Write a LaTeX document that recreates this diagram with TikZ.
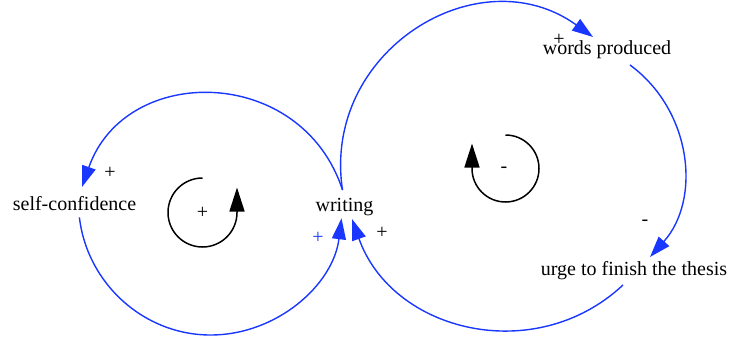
\documentclass[tikz,border=0pt]{standalone}
\usepackage{fontspec}
\setmainfont{Liberation Serif}
\usetikzlibrary{arrows.meta}
\definecolor{linkblue}{RGB}{25,55,255}
\tikzset{
  lbl/.style={inner sep=0pt, anchor=base, font=\fontsize{20}{24}\selectfont},
  sgn/.style={inner sep=0pt, font=\fontsize{20}{22}\selectfont},
  link/.style={draw=linkblue, line width=1.4pt, -{Triangle[length=21pt,width=14pt]}},
  loopsym/.style={draw=black, line width=1.5pt, -{Triangle[length=24pt,width=15pt]}}
}
\begin{document}
\begin{tikzpicture}[x=1pt,y=-1pt]
\path[use as bounding box] (0,0) rectangle (730,337);

% variables
\node[lbl] (sc) at (74.5,210) {self-confidence};
\node[lbl] (wr) at (344.5,211.5) {writing};
\node[lbl] (wp) at (607,55) {words produced};
\node[lbl] (ug) at (634,275) {urge to finish the thesis};

% connector end points
\coordinate (wrTop) at (342.5,190);
\coordinate (wrBL) at (341.5,218.3);
\coordinate (wrBR) at (352,219);
\coordinate (scN) at (82,187);
\coordinate (scS) at (79.4,217.4);
\coordinate (wpW) at (593,37);
\coordinate (wpS) at (630,65);
\coordinate (ugN) at (650,257);
\coordinate (ugS) at (623,285);
\coordinate (bot) at (210.5,335);

% links
\draw[link] (wrTop) .. controls (321.5,50.9) and (478.8,-45.3) .. (wpW);
\draw[link] (wpS) .. controls (692.1,110.6) and (701.3,199.6) .. (ugN);
\draw[link] (ugS) .. controls (535.3,367.0) and (392.1,332.2) .. (wrBR);
\draw[link] (wrTop) .. controls (301.8,64.8) and (125.3,62.8) .. (scN);
\draw[link] (scS) .. controls (87.2,283.6) and (143.8,335) .. (bot)
                  .. controls (277.2,335) and (333.3,284.5) .. (wrBL);

% polarities
\node[sgn] (p1) at (110,173) {+};
\node[sgn, text=linkblue] (p2) at (318,238) {+};
\node[sgn] (p3) at (382,233) {+};
\node[sgn] (p4) at (559,40) {+};
\node[sgn] (p5) at (645,223) {-};

% loop identifiers
\coordinate (L1) at (202.5,212.5);
\coordinate (L2) at (505.5,168.5);
\draw[loopsym] (202.5,178) arc[start angle=90, end angle=360, radius=34.5pt] -- ++(0,-25);
\draw[loopsym] (505.5,135) arc[start angle=90, end angle=-180, radius=33.5pt] -- ++(0,-25);
\node[sgn] (r1) at (L1) {+};
\node[sgn] (r2) at (504,170) {-};
\end{tikzpicture}
\end{document}
